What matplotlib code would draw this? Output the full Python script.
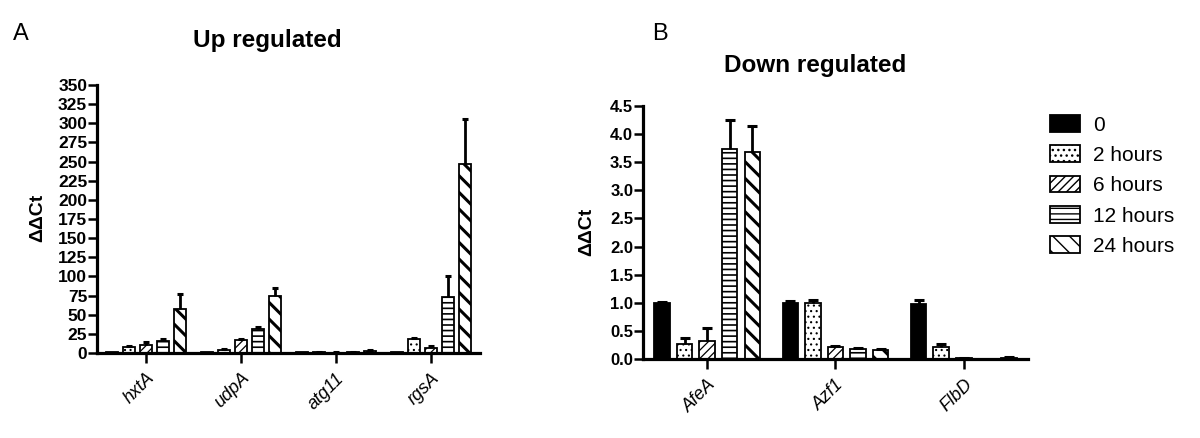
import numpy as np
import matplotlib
matplotlib.use("Agg")
import matplotlib.pyplot as plt

plt.rcParams['font.family'] = ['Liberation Sans', 'DejaVu Sans']
plt.rcParams['hatch.color'] = 'black'
plt.rcParams['hatch.linewidth'] = 1.0

# ---------------- data ----------------
series_labels = ["0", "2 hours", "6 hours", "12 hours", "24 hours"]

up_genes = ["hxtA", "udpA", "atg11", "rgsA"]
up_0h = [1, 1, 1, 1]
up_2h = [8, 4.5, 1, 18]
up_6h = [11, 17, 0.5, 6.5]
up_12h = [16, 31, 1, 73]
up_24h = [57, 75, 2.5, 247]
up_0h_err = [0, 0, 0, 0]
up_2h_err = [1, 1, 0.3, 2]
up_6h_err = [4, 1.5, 0.2, 3]
up_12h_err = [2, 3, 0.3, 28]
up_24h_err = [20, 10, 1.5, 58]
up_yticks = list(range(0, 351, 25))

down_genes = ["AfeA", "Azf1", "FlbD"]
down_0h = [1.0, 1.0, 0.98]
down_2h = [0.28, 0.99, 0.21]
down_6h = [0.33, 0.22, 0.02]
down_12h = [3.74, 0.19, 0.0]
down_24h = [3.68, 0.17, 0.03]
down_0h_err = [0.02, 0.03, 0.07]
down_2h_err = [0.09, 0.06, 0.07]
down_6h_err = [0.22, 0.015, 0.005]
down_12h_err = [0.5, 0.015, 0.0]
down_24h_err = [0.46, 0.005, 0.005]
down_yticks = [0.0, 0.5, 1.0, 1.5, 2.0, 2.5, 3.0, 3.5, 4.0, 4.5]

# ---------------- styles ----------------
faces = ['black', 'white', 'white', 'white', 'white']
hatches = [None, '...', '////', '---', '\\\\']
hatch_lw = [1.0, 0.8, 0.9, 1.2, 2.2]

fig = plt.figure(figsize=(12, 4.38), dpi=100)
ax1 = fig.add_axes([0.0808, 0.194, 0.319, 0.612])
ax2 = fig.add_axes([0.5358, 0.1797, 0.3208, 0.579])


def draw(ax, genes, vals_list, errs_list, step, width, capms):
    n = len(genes)
    base = np.arange(n)
    handles = []
    for i, (vals, errs) in enumerate(zip(vals_list, errs_list)):
        vals = np.asarray(vals, float)
        errs = np.asarray(errs, float)
        x = base + (i - 2) * step
        bc = ax.bar(x, vals, width, color=faces[i], edgecolor='black',
                    linewidth=1.3, hatch=hatches[i], label=series_labels[i],
                    zorder=2)
        for p in bc:
            if hasattr(p, 'set_hatch_linewidth'):
                p.set_hatch_linewidth(hatch_lw[i])
        handles.append(bc)
        mask = errs > 0
        if mask.any():
            ax.errorbar(x[mask], vals[mask], yerr=[np.zeros(mask.sum()), errs[mask]],
                        fmt='none', ecolor='black', elinewidth=2.0, capsize=0, zorder=3)
            ax.plot(x[mask], (vals + errs)[mask], ls='none', marker='_',
                    ms=capms, mew=2.2, color='black', zorder=3)
    ax.set_xticks(base)
    ax.set_xticklabels(genes, rotation=45, ha='right', rotation_mode='anchor',
                       fontstyle='italic', fontsize=13)
    for s in ['top', 'right']:
        ax.spines[s].set_visible(False)
    for s in ['left', 'bottom']:
        ax.spines[s].set_linewidth(2.3)
    ax.tick_params(axis='y', direction='out', length=6.5, width=1.8, pad=0.5)
    ax.tick_params(axis='x', direction='out', length=7, width=1.8, pad=5)
    return handles


handles = draw(ax1, up_genes, [up_0h, up_2h, up_6h, up_12h, up_24h],
               [up_0h_err, up_2h_err, up_6h_err, up_12h_err, up_24h_err],
               step=0.179, width=0.126, capms=5)
ax1.set_xlim(-0.516, len(up_genes) - 1 + 0.516)
ax1.set_ylim(0, 350)
ax1.set_yticks(up_yticks)
ax1.set_yticklabels([str(v) for v in up_yticks], fontweight='bold', fontsize=12.5)

draw(ax2, down_genes, [down_0h, down_2h, down_6h, down_12h, down_24h],
     [down_0h_err, down_2h_err, down_6h_err, down_12h_err, down_24h_err],
     step=0.176, width=0.121, capms=7)
ax2.set_xlim(-0.5, len(down_genes) - 1 + 0.5)
ax2.set_ylim(0, 4.5)
ax2.set_yticks(down_yticks)
ax2.set_yticklabels([f"{v:.1f}" for v in down_yticks], fontweight='bold', fontsize=12)

# titles, panel letters, y labels
fig.text(267 / 1200, 1 - 46.7 / 438, "Up regulated", ha='center', va='baseline',
         fontsize=17.5, fontweight='bold')
fig.text(815 / 1200, 1 - 71.7 / 438, "Down regulated", ha='center', va='baseline',
         fontsize=17.5, fontweight='bold')
fig.text(13 / 1200, 1 - 40 / 438, "A", ha='left', va='baseline', fontsize=17)
fig.text(652 / 1200, 1 - 40 / 438, "B", ha='left', va='baseline', fontsize=17)
fig.text(38 / 1200, 1 - 218 / 438, "ΔΔCt", rotation=90, ha='center', va='center',
         fontsize=14, fontweight='bold')
fig.text(587 / 1200, 1 - 232 / 438, "ΔΔCt", rotation=90, ha='center', va='center',
         fontsize=14, fontweight='bold')

fig.legend(handles=handles, labels=series_labels, loc='upper left',
           bbox_to_anchor=(1050 / 1200, 1 - 115 / 438), frameon=False,
           fontsize=15, handlelength=1.45, handleheight=0.85, handletextpad=0.6,
           labelspacing=0.52, borderpad=0, borderaxespad=0)

fig.savefig("out.png", dpi=100)
